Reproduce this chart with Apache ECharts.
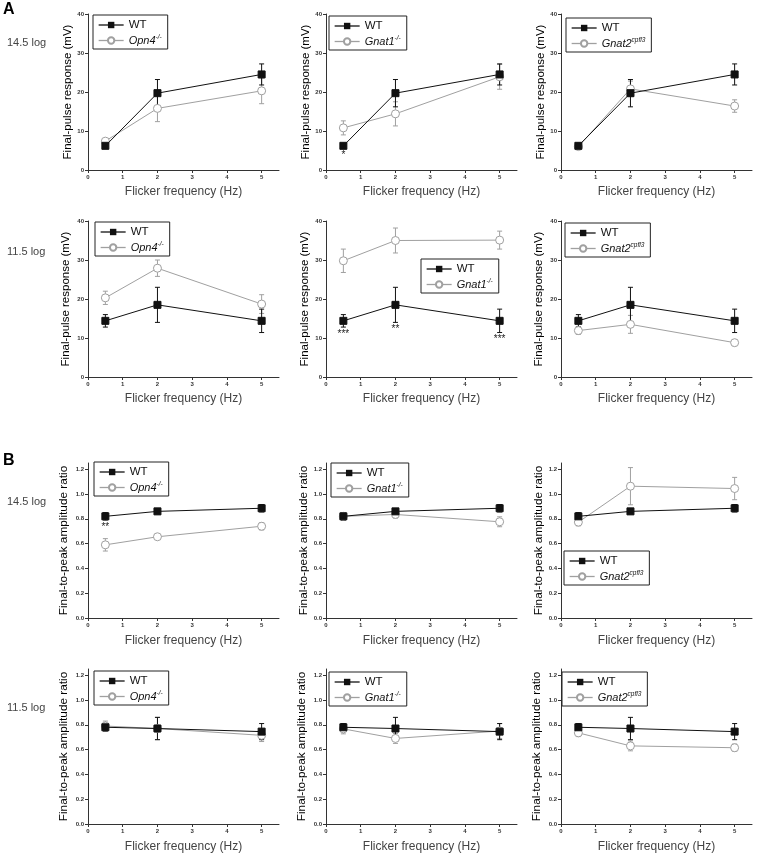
<!DOCTYPE html>
<html><head><meta charset="utf-8">
<script src="https://cdn.jsdelivr.net/npm/echarts@6/dist/echarts.min.js"></script>
<style>html,body{margin:0;padding:0;background:#fff}#c{width:757px;height:855px}</style>
</head><body><div id="c"></div>
<script>
// ---------- data ----------
const freq = [0.5, 2, 5];
const xTicks = [0, 1, 2, 3, 4, 5];
const yTicksA = [0, 10, 20, 30, 40];
const yTicksB = [0.0, 0.2, 0.4, 0.6, 0.8, 1.0, 1.2];
const rowLabels = ['14.5 log', '11.5 log', '14.5 log', '11.5 log'];
const mutantNames = ['Opn4-/-', 'Gnat1-/-', 'Gnat2cpfl3'];

// A, 14.5 log : final-pulse response (mV)
const wtA145 = [6.2, 19.7, 24.5];      const wtA145Err = [0.6, 3.5, 2.7];
const opn4A145 = [7.4, 15.8, 20.3];    const opn4A145Err = [0.6, 3.4, 3.3];
const gnat1A145 = [10.8, 14.4, 23.9];  const gnat1A145Err = [1.8, 3.1, 3.2];
const gnat2A145 = [6.0, 20.8, 16.4];   const gnat2A145Err = [0.5, 2.0, 1.6];
// A, 11.5 log
const wtA115 = [14.4, 18.5, 14.4];     const wtA115Err = [1.6, 4.5, 3.0];
const opn4A115 = [20.3, 27.9, 18.7];   const opn4A115Err = [1.7, 2.1, 2.4];
const gnat1A115 = [29.8, 35.0, 35.1];  const gnat1A115Err = [3.0, 3.2, 2.3];
const gnat2A115 = [11.9, 13.5, 8.8];   const gnat2A115Err = [1.0, 2.3, 0.8];
// B, 14.5 log : final-to-peak amplitude ratio
const wtB145 = [0.82, 0.86, 0.885];    const wtB145Err = [0.03, 0.02, 0.03];
const opn4B145 = [0.59, 0.655, 0.74];  const opn4B145Err = [0.05, 0.02, 0.03];
const gnat1B145 = [0.82, 0.835, 0.776];const gnat1B145Err = [0.03, 0.03, 0.04];
const gnat2B145 = [0.773, 1.063, 1.044];const gnat2B145Err = [0.03, 0.15, 0.09];
// B, 11.5 log
const wtB115 = [0.78, 0.77, 0.745];    const wtB115Err = [0.03, 0.09, 0.065];
const opn4B115 = [0.79, 0.77, 0.715];  const opn4B115Err = [0.04, 0.09, 0.05];
const gnat1B115 = [0.767, 0.69, 0.75]; const gnat1B115Err = [0.04, 0.04, 0.06];
const gnat2B115 = [0.735, 0.63, 0.615];const gnat2B115Err = [0.03, 0.04, 0.03];

// significance marks under WT points
const sigNone = ['', '', ''];
const sigGnat1A145 = ['*', '', ''];
const sigGnat1A115 = ['***', '**', '***'];
const sigOpn4B145 = ['**', '', ''];

const panels = [
  [wtA145, wtA145Err, opn4A145, opn4A145Err, 0, sigNone],
  [wtA145, wtA145Err, gnat1A145, gnat1A145Err, 1, sigGnat1A145],
  [wtA145, wtA145Err, gnat2A145, gnat2A145Err, 2, sigNone],
  [wtA115, wtA115Err, opn4A115, opn4A115Err, 0, sigNone],
  [wtA115, wtA115Err, gnat1A115, gnat1A115Err, 1, sigGnat1A115],
  [wtA115, wtA115Err, gnat2A115, gnat2A115Err, 2, sigNone],
  [wtB145, wtB145Err, opn4B145, opn4B145Err, 0, sigOpn4B145],
  [wtB145, wtB145Err, gnat1B145, gnat1B145Err, 1, sigNone],
  [wtB145, wtB145Err, gnat2B145, gnat2B145Err, 2, sigNone],
  [wtB115, wtB115Err, opn4B115, opn4B115Err, 0, sigNone],
  [wtB115, wtB115Err, gnat1B115, gnat1B115Err, 1, sigNone],
  [wtB115, wtB115Err, gnat2B115, gnat2B115Err, 2, sigNone]
];

// ---------- layout ----------
const gridLeft = [88, 326, 561];
const gridTop = [14, 221, 463, 669];
const gridH = [156, 156, 155, 155];
const gridW = 191;
const yNameGap = [[14, 6, 14], [16, 15, 16], [18, 12, 16], [18, 18, 18]];
const legendPos = [
  [93, 15], [329, 16], [566, 18],
  [95, 222], [421, 259], [565, 223],
  [94, 462], [331, 463], [564, 551],
  [94, 671], [329, 672], [562, 672]
];
const FONT = 'Liberation Sans, Arial, sans-serif';
const WT_COLOR = '#111';
const MUT_COLOR = '#a0a0a0';

const chart = echarts.init(document.getElementById('c'), null, {renderer: 'canvas'});

const grids = [], xAxes = [], yAxes = [], series = [], legends = [];

function errData(v, e) { return freq.map((x, i) => [x, v[i] - e[i], v[i] + e[i]]); }

function errRender(color) {
  return function (params, api) {
    const x = api.value(0), lo = api.value(1), hi = api.value(2);
    const p1 = api.coord([x, lo]), p2 = api.coord([x, hi]);
    const cw = 2.5;
    const st = {stroke: color, lineWidth: 1};
    return {type: 'group', children: [
      {type: 'line', shape: {x1: p1[0], y1: p1[1], x2: p2[0], y2: p2[1]}, style: st},
      {type: 'line', shape: {x1: p1[0] - cw, y1: p1[1], x2: p1[0] + cw, y2: p1[1]}, style: st},
      {type: 'line', shape: {x1: p2[0] - cw, y1: p2[1], x2: p2[0] + cw, y2: p2[1]}, style: st}
    ]};
  };
}

panels.forEach((pn, k) => {
  const [wt, wtE, mut, mutE, mi, sig] = pn;
  const row = Math.floor(k / 3), col = k % 3;
  const isA = row < 2;
  grids.push({left: gridLeft[col], top: gridTop[row], width: gridW, height: gridH[row]});
  xAxes.push({
    gridIndex: k, type: 'value', min: 0, max: 5.5,
    name: 'Flicker frequency (Hz)', nameLocation: 'middle', nameGap: isA ? 16 : 17,
    nameTextStyle: {fontFamily: FONT, fontSize: 12, color: '#444'},
    axisLine: {show: true, onZero: false, lineStyle: {color: '#333', width: 1}},
    axisTick: {show: true, length: 3, customValues: xTicks, lineStyle: {color: '#333'}},
    axisLabel: {show: true, customValues: xTicks, fontSize: 6, margin: 4, color: '#333', fontFamily: FONT, fontWeight: 'bold'},
    splitLine: {show: false}
  });
  yAxes.push({
    gridIndex: k, type: 'value', min: 0, max: isA ? 40 : 1.25,
    name: isA ? 'Final-pulse response (mV)' : 'Final-to-peak amplitude ratio',
    nameLocation: 'middle', nameGap: yNameGap[row][col], nameRotate: 90,
    nameTextStyle: {fontFamily: FONT, fontSize: isA ? 11.5 : 11.8, color: '#000'},
    axisLine: {show: true, onZero: false, lineStyle: {color: '#333', width: 1}},
    axisTick: {show: true, length: 3, customValues: isA ? yTicksA : yTicksB, lineStyle: {color: '#333'}},
    axisLabel: {show: true, customValues: isA ? yTicksA : yTicksB, fontSize: 6, margin: 4, color: '#333', fontFamily: FONT, fontWeight: 'bold',
      formatter: v => isA ? String(v) : v.toFixed(1)},
    splitLine: {show: false}
  });
  const mName = mutantNames[mi];
  series.push({
    type: 'custom', xAxisIndex: k, yAxisIndex: k, z: 1, silent: true,
    renderItem: errRender(MUT_COLOR), data: errData(mut, mutE)
  });
  series.push({
    type: 'custom', xAxisIndex: k, yAxisIndex: k, z: 1, silent: true,
    renderItem: errRender(WT_COLOR), data: errData(wt, wtE)
  });
  series.push({
    name: mName, type: 'line', xAxisIndex: k, yAxisIndex: k, z: 3,
    data: freq.map((x, i) => [x, mut[i]]),
    symbol: 'circle', symbolSize: 8, showAllSymbol: true,
    lineStyle: {color: MUT_COLOR, width: 1},
    itemStyle: {color: '#fff', borderColor: MUT_COLOR, borderWidth: 1},
    color: MUT_COLOR, animation: false
  });
  series.push({
    name: 'WT', type: 'line', xAxisIndex: k, yAxisIndex: k, z: 4,
    data: freq.map((x, i) => [x, wt[i]]),
    symbol: 'rect', symbolSize: 7, showAllSymbol: true,
    lineStyle: {color: WT_COLOR, width: 1},
    itemStyle: {color: WT_COLOR, borderColor: WT_COLOR},
    color: WT_COLOR, animation: false
  });
  if (sig.some(s => s)) {
    series.push({
      type: 'custom', xAxisIndex: k, yAxisIndex: k, z: 5, silent: true,
      renderItem: function (params, api) {
        const x = api.value(0), lo = api.value(1);
        const p = api.coord([x, lo]);
        return {type: 'text', x: p[0], y: p[1] + 2, style: {
          text: sig[params.dataIndex], fill: '#222', font: '10px ' + FONT, align: 'center', verticalAlign: 'top'}};
      },
      data: freq.map((x, i) => [x, wt[i] - wtE[i]])
    });
  }
  legends.push({
    left: legendPos[k][0], top: legendPos[k][1], orient: 'vertical',
    data: ['WT', mName], padding: [4, 6, 3, 5], itemGap: 3, itemWidth: 25, itemHeight: 8,
    borderColor: '#222', borderWidth: 1, backgroundColor: '#fff', selectedMode: false,
    lineStyle: {width: 1.3},
    textStyle: {fontFamily: FONT, fontSize: 11, color: '#111',
      rich: {
        n: {fontFamily: FONT, fontSize: 11.5, color: '#111', lineHeight: 13},
        i: {fontFamily: FONT, fontSize: 11, fontStyle: 'italic', color: '#111', lineHeight: 13},
        s: {fontFamily: FONT, fontSize: 6.5, fontStyle: 'italic', color: '#111', verticalAlign: 'top', lineHeight: 8}
      }},
    formatter: function (name) {
      if (name === 'WT') return '{n|WT}';
      if (name === 'Opn4-/-') return '{i|Opn4}{s|-/-}';
      if (name === 'Gnat1-/-') return '{i|Gnat1}{s|-/-}';
      return '{i|Gnat2}{s|cpfl3}';
    }
  });
});

const graphics = [
  {type: 'text', left: 3, top: 2, style: {text: 'A', font: 'bold 16px ' + FONT, fill: '#000'}},
  {type: 'text', left: 3, top: 453, style: {text: 'B', font: 'bold 16px ' + FONT, fill: '#000'}}
];
const rowLabelY = [37, 246, 496, 702];
rowLabels.forEach((t, i) => graphics.push({type: 'text', left: 7, top: rowLabelY[i],
  style: {text: t, font: '11px ' + FONT, fill: '#444'}}));

chart.setOption({
  animation: false,
  backgroundColor: '#fff',
  grid: grids, xAxis: xAxes, yAxis: yAxes, series: series, legend: legends,
  graphic: graphics
});
</script></body></html>
